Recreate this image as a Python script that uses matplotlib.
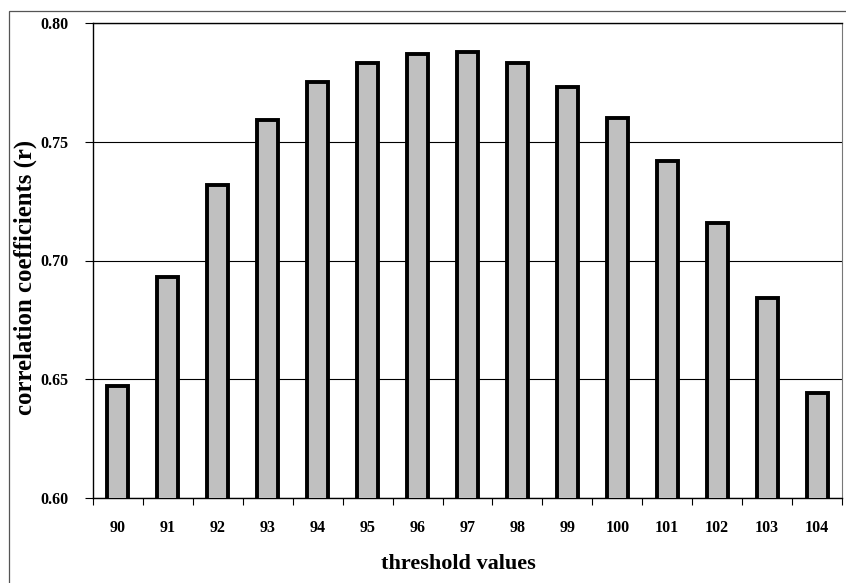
import matplotlib
matplotlib.use("Agg")
import matplotlib.pyplot as plt
from matplotlib.patches import Rectangle
import numpy as np

thresholds = ["90", "91", "92", "93", "94", "95", "96", "97", "98", "99", "100", "101", "102", "103", "104"]
r_values = [0.647, 0.693, 0.732, 0.759, 0.775, 0.783, 0.787, 0.788, 0.783, 0.773, 0.760, 0.742, 0.716, 0.684, 0.644]
y_ticks = [0.60, 0.65, 0.70, 0.75, 0.80]

plt.rcParams['font.family'] = ['Liberation Serif', 'DejaVu Serif']

W, H = 846, 583
fig = plt.figure(figsize=(W / 100, H / 100), dpi=100)
ax = fig.add_axes([93 / W, 1 - 498 / H, (842 - 93) / W, (498 - 23) / H])

x = np.arange(len(thresholds))
ax.bar(x, r_values, width=0.42, color='#c0c0c0', edgecolor='black', linewidth=2.8, zorder=3)

ax.set_xlim(-0.5, len(thresholds) - 0.5)
ax.set_ylim(0.60, 0.80)
ax.set_yticks(y_ticks)
ax.set_yticklabels([f"{v:.2f}" for v in y_ticks], fontsize=11.5, fontweight='bold')
ax.set_xticks(x)
ax.set_xticklabels(thresholds, fontsize=11.5, fontweight='bold')
ax.set_xticks(np.arange(len(thresholds) + 1) - 0.5, minor=True)
ax.tick_params(axis='x', which='major', length=0, pad=16)
ax.tick_params(axis='x', which='minor', length=5, width=0.8, direction='out')
ax.tick_params(axis='y', length=6, width=0.8, direction='out', pad=11.5)

ax.grid(axis='y', color='black', linewidth=0.8, zorder=0)
ax.set_axisbelow(True)
for s in ['left', 'bottom', 'top']:
    ax.spines[s].set_color('black')
    ax.spines[s].set_linewidth(1.0)
ax.spines['right'].set_color('#777777')
ax.spines['right'].set_linewidth(0.8)

ax.set_xlabel('threshold values', fontsize=16, fontweight='bold')
ax.xaxis.set_label_coords((458 - 93) / 749, -0.117)
ax.set_ylabel('correlation coefficients (r)', fontsize=17.8, fontweight='bold')
ax.yaxis.set_label_coords((25 - 93) / 749, (498 - 277) / 475)
ax.yaxis.label.set_verticalalignment('center')

fig.patches.append(Rectangle((9 / W, -0.01), 1.0, 1 - 11 / H + 0.01, transform=fig.transFigure,
                             fill=False, edgecolor='#555555', linewidth=0.9))

fig.savefig('out.png', dpi=100)
